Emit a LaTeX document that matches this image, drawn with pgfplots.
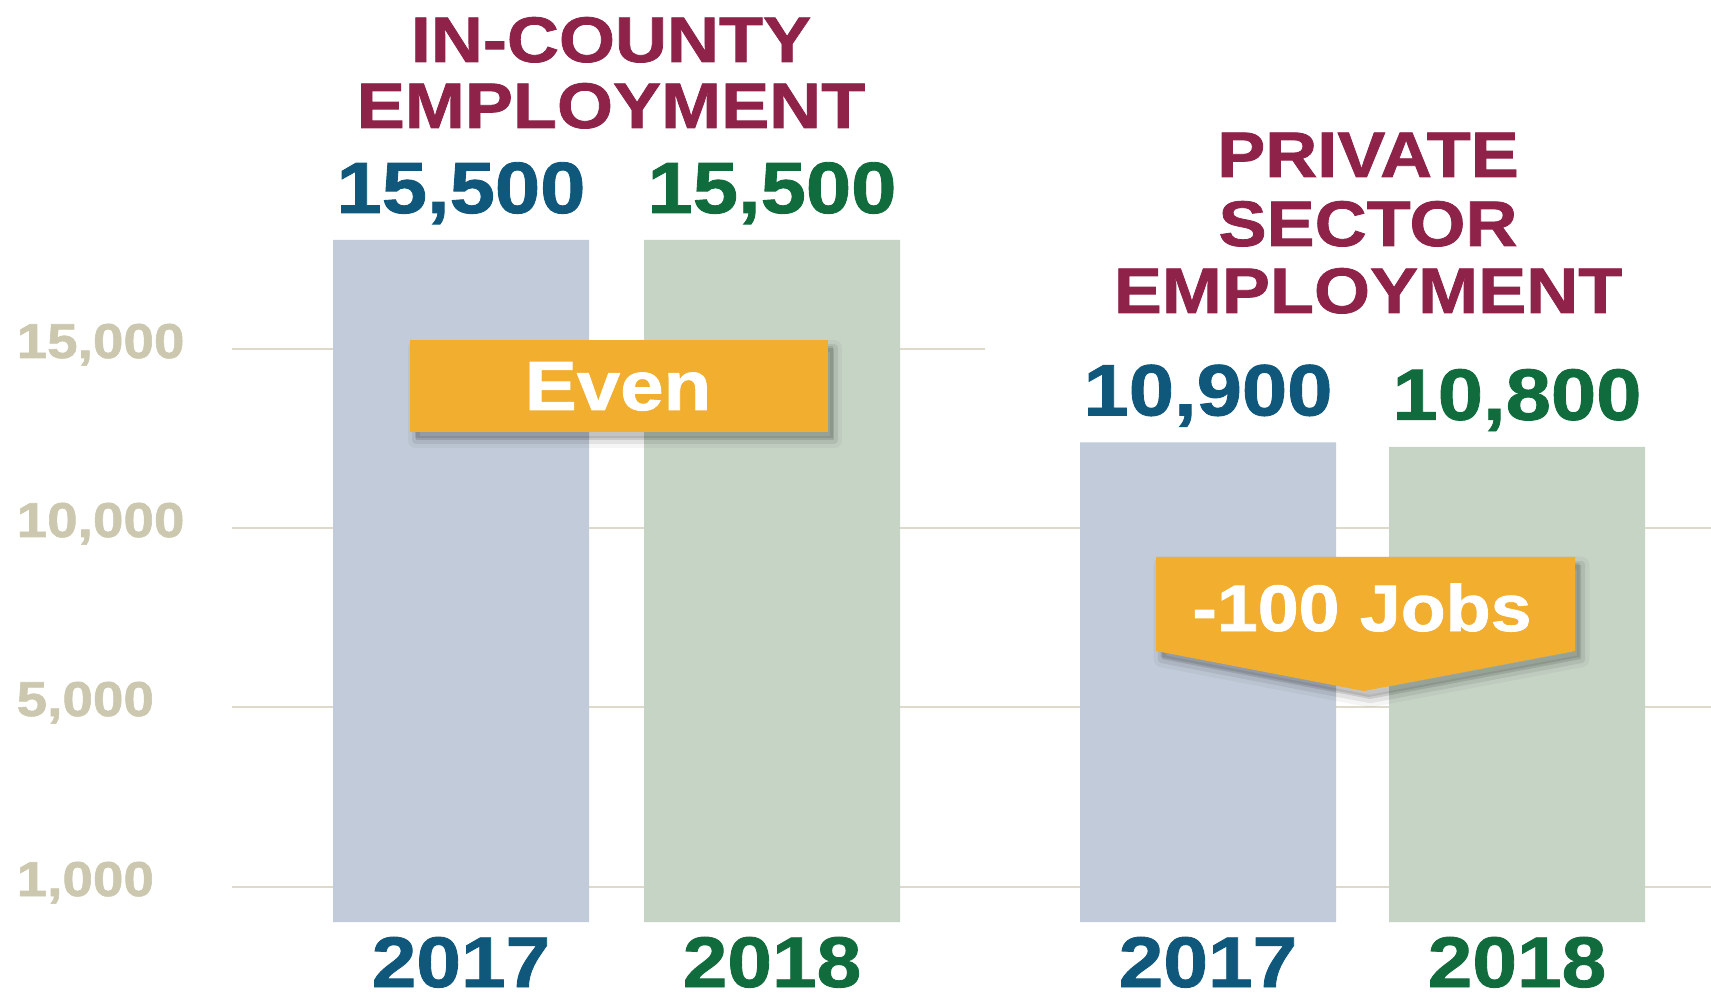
\documentclass[border=0pt]{standalone}
\usepackage{pgfplots}
\pgfplotsset{compat=1.18}
\usepackage{fontspec}
\newfontfamily\hv{Liberation Sans}[BoldFeatures={FakeStretch=1.12,FakeBold=1.2}]
\definecolor{maroon}{HTML}{8E2249}
\definecolor{c17}{HTML}{0F587C}
\definecolor{c18}{HTML}{106C3C}
\definecolor{bar17}{HTML}{C2CBD9}
\definecolor{bar18}{HTML}{C6D4C6}
\definecolor{gold}{HTML}{F1AE2F}
\definecolor{tickc}{HTML}{CCC8AF}
\definecolor{gridc}{HTML}{DEDACB}
\tikzset{
  shA/.style={fill=black, fill opacity=.04, draw=black, draw opacity=.04, line width=5pt, line join=round, xshift=1.8pt, yshift=-2.4pt},
  shB/.style={fill=black, fill opacity=.07, draw=black, draw opacity=.07, line width=2.5pt, line join=round, xshift=1.8pt, yshift=-2.4pt},
  shC/.style={fill=black, fill opacity=.10, xshift=1.4pt, yshift=-1.8pt},
}
\begin{document}
\begin{tikzpicture}
\path[use as bounding box, fill=white] (0,0) rectangle (513.3pt,300.3pt);
\begin{axis}[at={(0,0)}, anchor=south west, scale only axis,
  width=513.3pt, height=300.3pt,
  xmin=0, xmax=1711, ymin=-1795.5, ymax=20954.5,
  axis line style={draw=none}, major tick length=0pt, clip=false,
  xtick={461,772,1208,1517},
  xticklabels={\textcolor{c17}{2017},\textcolor{c18}{2018},\textcolor{c17}{2017},\textcolor{c18}{2018}},
  xticklabel style={font=\hv\bfseries\fontsize{21.5}{24}\selectfont, anchor=base, yshift=4.2pt, inner sep=0pt},
  ytick={795.5,4886.4,8954.5,13022.7},
  yticklabels={1{,}000,5{,}000,10{,}000,15{,}000},
  yticklabel style={font=\hv\bfseries\fontsize{14.7}{17}\selectfont, text=tickc, anchor=base west, xshift=4.8pt, yshift=-2.7pt, inner sep=0pt},
  ybar, bar width=256,
  nodes near coords,
  /pgf/number format/.cd, 1000 sep={,}, fixed, precision=0, assume math mode=true,
  /pgfplots/.cd,
  every node near coord/.append style={font=\hv\bfseries\fontsize{21.8}{24}\selectfont, anchor=base, yshift=8.1pt, inner sep=0pt},
]
% gridlines
\draw[gridc, line width=0.5pt] (axis cs:232,795.5) -- (axis cs:1711,795.5);
\draw[gridc, line width=0.5pt] (axis cs:232,4886.4) -- (axis cs:1711,4886.4);
\draw[gridc, line width=0.5pt] (axis cs:232,8954.5) -- (axis cs:1711,8954.5);
\draw[gridc, line width=0.5pt] (axis cs:232,13022.7) -- (axis cs:985,13022.7);
% bars
\addplot[fill=bar17, draw=none, bar shift=0pt, every node near coord/.append style={text=c17}]
  coordinates {(461,15500) (1208,10900)};
\addplot[fill=bar18, draw=none, bar shift=0pt, every node near coord/.append style={text=c18}]
  coordinates {(772,15500) (1517,10800)};
% Even callout
\path[shA] (axis cs:410,13227.3) rectangle (axis cs:828,11136.4);
\path[shB] (axis cs:410,13227.3) rectangle (axis cs:828,11136.4);
\path[shC] (axis cs:410,13227.3) rectangle (axis cs:828,11136.4);
\fill[gold] (axis cs:410,13227.3) rectangle (axis cs:828,11136.4);
\node[font=\hv\bfseries\fontsize{20.9}{24}\selectfont, text=white, anchor=base, inner sep=0pt] at (axis cs:618,11636.4) {Even};
% -100 Jobs callout
\path[shA] (axis cs:1156,8295.5) -- (axis cs:1575,8295.5) -- (axis cs:1575,6159.1) -- (axis cs:1364,5250) -- (axis cs:1156,6159.1) -- cycle;
\path[shB] (axis cs:1156,8295.5) -- (axis cs:1575,8295.5) -- (axis cs:1575,6159.1) -- (axis cs:1364,5250) -- (axis cs:1156,6159.1) -- cycle;
\path[shC] (axis cs:1156,8295.5) -- (axis cs:1575,8295.5) -- (axis cs:1575,6159.1) -- (axis cs:1364,5250) -- (axis cs:1156,6159.1) -- cycle;
\fill[gold] (axis cs:1156,8295.5) -- (axis cs:1575,8295.5) -- (axis cs:1575,6159.1) -- (axis cs:1364,5250) -- (axis cs:1156,6159.1) -- cycle;
\node[font=\hv\bfseries\fontsize{19.7}{24}\selectfont, text=white, anchor=base, inner sep=0pt] at (axis cs:1362,6613.6) {-100 Jobs};
% titles
\node[font=\hv\bfseries\fontsize{19.3}{22}\selectfont, text=maroon, anchor=base, inner sep=0pt] at (axis cs:611,19545.5) {IN-COUNTY};
\node[font=\hv\bfseries\fontsize{19.3}{22}\selectfont, text=maroon, anchor=base, inner sep=0pt] at (axis cs:611,18045.5) {EMPLOYMENT};
\node[font=\hv\bfseries\fontsize{19.3}{22}\selectfont, text=maroon, anchor=base, inner sep=0pt] at (axis cs:1368,16931.8) {PRIVATE};
\node[font=\hv\bfseries\fontsize{19.3}{22}\selectfont, text=maroon, anchor=base, inner sep=0pt] at (axis cs:1368,15363.6) {SECTOR};
\node[font=\hv\bfseries\fontsize{19.3}{22}\selectfont, text=maroon, anchor=base, inner sep=0pt] at (axis cs:1368,13840.9) {EMPLOYMENT};
\end{axis}
\end{tikzpicture}
\end{document}
